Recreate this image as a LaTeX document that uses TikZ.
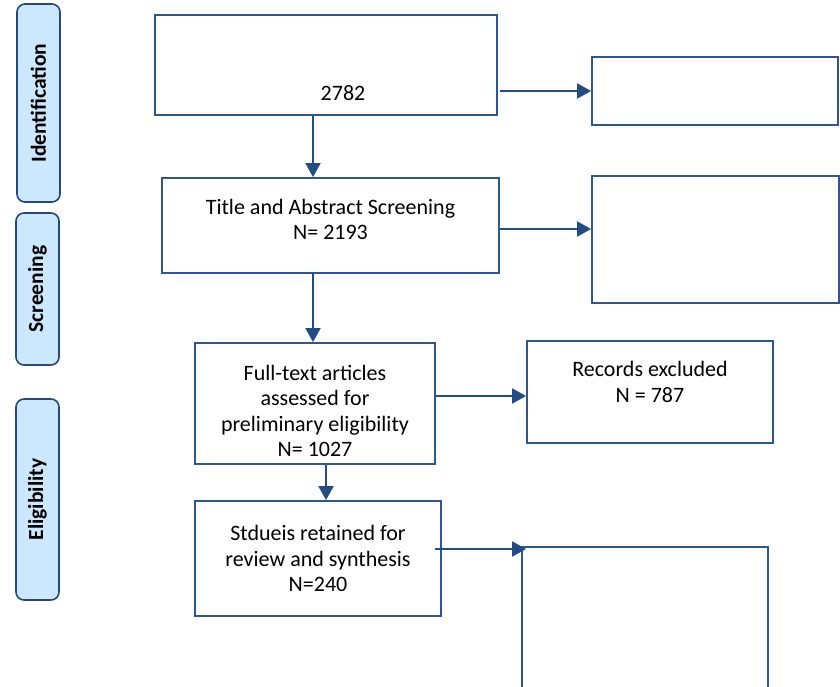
\documentclass[tikz,border=0pt]{standalone}
\usepackage{fontspec}
\setmainfont{Carlito}
\usetikzlibrary{arrows.meta}

\begin{document}
\begin{tikzpicture}[x=1pt,y=-1pt,
  box/.style={draw=boxline,line width=1.8pt,inner sep=0pt,align=center,
    font=\fontsize{22}{25.5}\selectfont},
  phase/.style={draw=phaseline,fill=phasefill,line width=1.6pt,rounded corners=8pt,
    rotate=90,inner sep=0pt,minimum height=43pt,font=\fontsize{21.5}{24}\selectfont\bfseries},
  arr/.style={draw=arrowc,line width=1.8pt,-{Triangle[length=14pt,width=15pt]}}]
% Define flow colours
\definecolor{boxline}{RGB}{47,85,151}
\definecolor{arrowc}{RGB}{33,76,132}
\definecolor{phaseline}{RGB}{37,72,125}
\definecolor{phasefill}{RGB}{204,232,255}

\clip (0,0) rectangle (840,686);

% Draw phase labels
\node[phase,minimum width=198pt] (ident) at (38.5,103) {Identification};
\node[phase,minimum width=152pt] (screen) at (37.5,289) {Screening};
\node[phase,minimum width=201pt] (elig) at (37.5,499.5) {Eligibility};

% Draw main boxes
\node[box,minimum width=342pt,minimum height=100pt,
  label={[anchor=base,xshift=17pt,yshift=15pt,font=\fontsize{22}{25.5}\selectfont]south:2782}] (records) at (326,65) {};
\node[box,minimum width=337pt,minimum height=95pt] (title) at (330.5,225.5) {Title and Abstract Screening\\N= 2193\\[-13.5pt]\mbox{}};
\node[box,minimum width=240pt,minimum height=121pt] (full) at (315,403.5) {\mbox{}\\[4.5pt]Full-text articles\\assessed for\\preliminary eligibility\\N= 1027};
\node[box,minimum width=246pt,minimum height=115pt] (studies) at (318,558.5) {Stdueis retained for\\review and synthesis\\N=240};

% Draw side boxes
\node[box,minimum width=246pt,minimum height=68pt] (dupl) at (715,91) {};
\node[box,minimum width=247pt,minimum height=127pt] (screenout) at (715.5,239.5) {};
\node[box,minimum width=246pt,minimum height=102pt] (excl) at (650,392) {Records excluded\\N = 787\\[-5.5pt]\mbox{}};
\node[box,minimum width=246pt,minimum height=213pt] (final) at (645,653.5) {};

% Down arrows
\draw[arr] ([xshift=-13pt]records.south) -- ([xshift=-13pt]records.south |- title.north);
\draw[arr] ([xshift=-2pt]full.north |- title.south) -- ([xshift=-2pt]full.north);
\draw[arr] ([xshift=11pt]full.south) -- ([xshift=11pt]full.south |- studies.north);

% Side arrows
\draw[arr] ([xshift=2pt]records.east |- dupl.west) -- (dupl.west);
\draw[arr] ([yshift=-3.5pt]title.east) -- ([yshift=-3.5pt]title.east -| screenout.west);
\draw[arr] ([yshift=-4pt]excl.west -| full.east) -- ([yshift=-4pt]excl.west);
\draw[arr,shorten >=-5pt] ([xshift=-7pt,yshift=9.5pt]studies.east) -- ([yshift=9.5pt]studies.east -| final.west);
\end{tikzpicture}
\end{document}
